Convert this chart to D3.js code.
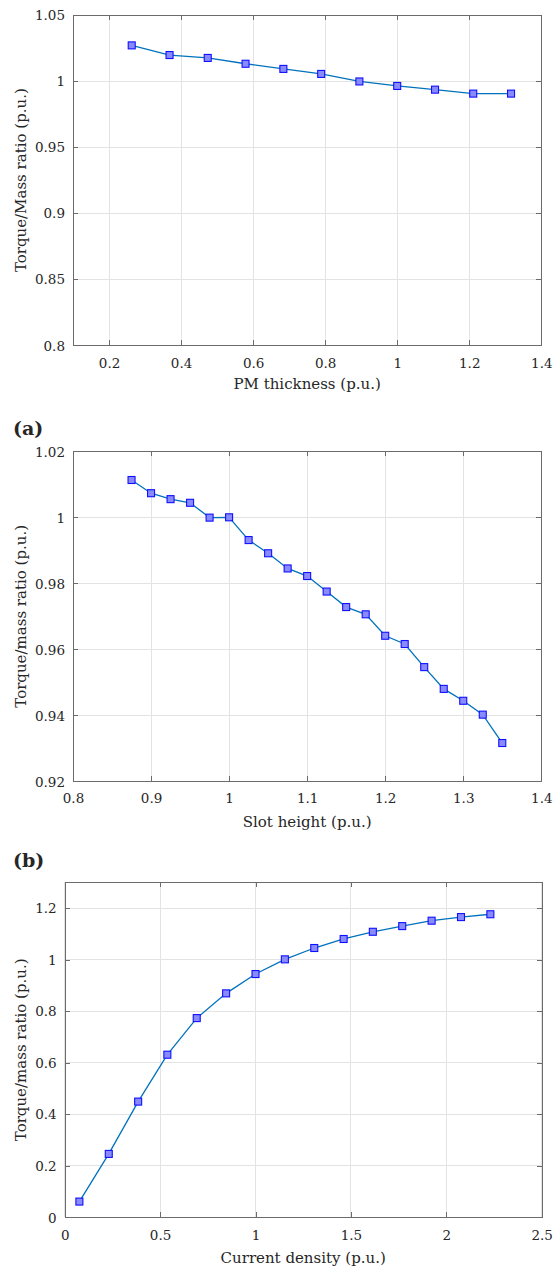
<!DOCTYPE html>
<html>
<head>
<meta charset="utf-8">
<script src="https://cdn.jsdelivr.net/npm/d3@7"></script>
<style>
  html, body { margin: 0; padding: 0; background: #fff; }
  svg text { font-family: "DejaVu Serif", "Liberation Serif", serif; fill: #262626; }
</style>
</head>
<body>
<svg id="chart" width="553" height="1270"></svg>
<script>
// ---- Data ----
const pmThickness = [0.263, 0.368, 0.474, 0.579, 0.684, 0.789, 0.895, 1.0, 1.105, 1.211, 1.316];
const pmRatio     = [1.027, 1.0197, 1.0175, 1.0131, 1.0092, 1.0054, 0.9997, 0.9963, 0.9935, 0.9905, 0.9905];

const slotHeight = [0.875, 0.9, 0.925, 0.95, 0.975, 1.0, 1.025, 1.05, 1.075, 1.1,
                    1.125, 1.15, 1.175, 1.2, 1.225, 1.25, 1.275, 1.3, 1.325, 1.35];
const slotRatio  = [1.0113, 1.0073, 1.0055, 1.0044, 0.9999, 1.0, 0.9931, 0.9891, 0.9845, 0.9822,
                    0.9775, 0.9728, 0.9706, 0.9641, 0.9616, 0.9546, 0.948, 0.9444, 0.9402, 0.9316];

const currentDensity = [0.077, 0.231, 0.385, 0.538, 0.692, 0.846, 1.0, 1.154,
                        1.308, 1.462, 1.615, 1.769, 1.923, 2.077, 2.231];
const currentRatio   = [0.061, 0.246, 0.449, 0.631, 0.773, 0.869, 0.944, 1.001,
                        1.045, 1.080, 1.108, 1.130, 1.151, 1.165, 1.176];

const ticksX1 = [0.2, 0.4, 0.6, 0.8, 1, 1.2, 1.4];
const ticksY1 = [0.8, 0.85, 0.9, 0.95, 1, 1.05];
const ticksX2 = [0.8, 0.9, 1, 1.1, 1.2, 1.3, 1.4];
const ticksY2 = [0.92, 0.94, 0.96, 0.98, 1, 1.02];
const ticksX3 = [0, 0.5, 1, 1.5, 2, 2.5];
const ticksY3 = [0, 0.2, 0.4, 0.6, 0.8, 1, 1.2];

const xLabels = ["PM thickness (p.u.)", "Slot height (p.u.)", "Current density (p.u.)"];
const yLabels = ["Torque/Mass ratio (p.u.)", "Torque/mass ratio (p.u.)", "Torque/mass ratio (p.u.)"];
const panelTags = ["(a)", "(b)"];

// ---- Drawing ----
const svg = d3.select("#chart");
const fmt = d => String(+d.toFixed(3));

function drawPanel(cfg) {
  const g = svg.append("g");
  const x = d3.scaleLinear().domain(cfg.xDomain).range([cfg.left, cfg.right]);
  const y = d3.scaleLinear().domain(cfg.yDomain).range([cfg.bottom, cfg.top]);

  // grid
  g.append("g").selectAll("line.gx").data(cfg.xTicks).join("line")
    .attr("x1", d => x(d)).attr("x2", d => x(d))
    .attr("y1", cfg.top).attr("y2", cfg.bottom)
    .attr("stroke", "#e3e3e3").attr("stroke-width", 1).attr("shape-rendering", "crispEdges");
  g.append("g").selectAll("line.gy").data(cfg.yTicks).join("line")
    .attr("y1", d => y(d)).attr("y2", d => y(d))
    .attr("x1", cfg.left).attr("x2", cfg.right)
    .attr("stroke", "#e3e3e3").attr("stroke-width", 1).attr("shape-rendering", "crispEdges");

  // axes (ticks inward)
  const ax = (axis) => axis.tickSizeInner(-5).tickSizeOuter(0).tickPadding(0).tickFormat(fmt);
  const styleAxis = (sel) => {
    sel.select(".domain").attr("stroke", "#6b6b6b");
    sel.selectAll(".tick line").attr("stroke", "#6b6b6b");
    sel.selectAll("text").attr("fill", "#2b2b2b").style("font-size", "13.5px")
       .style("font-family", '"DejaVu Serif", "Liberation Serif", serif');
  };
  const bx = g.append("g").attr("transform", `translate(0,${cfg.bottom})`)
    .call(ax(d3.axisBottom(x).tickValues(cfg.xTicks))).call(styleAxis);
  bx.selectAll("text").attr("y", cfg.xTickDy).attr("dy", "0.35em");
  const tx = g.append("g").attr("transform", `translate(0,${cfg.top})`)
    .call(ax(d3.axisTop(x).tickValues(cfg.xTicks))).call(styleAxis);
  tx.selectAll("text").remove();
  const ly = g.append("g").attr("transform", `translate(${cfg.left},0)`)
    .call(ax(d3.axisLeft(y).tickValues(cfg.yTicks))).call(styleAxis);
  ly.selectAll("text").attr("x", -cfg.yTickDx).attr("dy", "0.35em");
  const ry = g.append("g").attr("transform", `translate(${cfg.right},0)`)
    .call(ax(d3.axisRight(y).tickValues(cfg.yTicks))).call(styleAxis);
  ry.selectAll("text").remove();
  g.selectAll(".domain").attr("stroke", "#6b6b6b").attr("shape-rendering", "crispEdges");
  g.selectAll(".tick line").attr("shape-rendering", "crispEdges");

  // labels
  g.append("text").attr("x", (cfg.left + cfg.right) / 2).attr("y", cfg.xLabelY)
    .attr("text-anchor", "middle").attr("dy", "0.35em").style("font-size", "15px").text(cfg.xLabel);
  g.append("text").attr("transform", `translate(${cfg.yLabelX},${(cfg.top + cfg.bottom) / 2}) rotate(-90)`)
    .attr("text-anchor", "middle").attr("dy", "0.35em").style("font-size", "15px").text(cfg.yLabel);

  // line
  const pts = cfg.xs.map((v, i) => [v, cfg.ys[i]]);
  g.append("path").datum(pts)
    .attr("d", d3.line().x(d => x(d[0])).y(d => y(d[1])))
    .attr("fill", "none").attr("stroke", "#0072BD").attr("stroke-width", 1.3);
  const s = 7;
  g.append("g").selectAll("rect").data(pts).join("rect")
    .attr("x", d => x(d[0]) - s / 2).attr("y", d => y(d[1]) - s / 2)
    .attr("width", s).attr("height", s)
    .attr("fill", "#8a8aff").attr("stroke", "#1010ff").attr("stroke-width", 1.1);
}

drawPanel({
  xs: pmThickness, ys: pmRatio, xDomain: [0.1, 1.4], yDomain: [0.8, 1.05],
  xTicks: ticksX1, yTicks: ticksY1,
  left: 73, right: 541.3, top: 15, bottom: 345.3,
  xTickDy: 18, yTickDx: 8, xLabelY: 384, yLabelX: 21,
  xLabel: xLabels[0], yLabel: yLabels[0]
});
drawPanel({
  xs: slotHeight, ys: slotRatio, xDomain: [0.8, 1.4], yDomain: [0.92, 1.02],
  xTicks: ticksX2, yTicks: ticksY2,
  left: 73, right: 541.3, top: 451.3, bottom: 781.3,
  xTickDy: 17, yTickDx: 8, xLabelY: 822, yLabelX: 21,
  xLabel: xLabels[1], yLabel: yLabels[1]
});
drawPanel({
  xs: currentDensity, ys: currentRatio, xDomain: [0, 2.5], yDomain: [0, 1.3],
  xTicks: ticksX3, yTicks: ticksY3,
  left: 64.7, right: 541.7, top: 882.3, bottom: 1217.3,
  xTickDy: 18, yTickDx: 8, xLabelY: 1258, yLabelX: 21,
  xLabel: xLabels[2], yLabel: yLabels[2]
});

// panel tags
svg.append("text").attr("x", 13).attr("y", 435).style("font-size", "19px").style("font-weight", "bold").text(panelTags[0]);
svg.append("text").attr("x", 13).attr("y", 867).style("font-size", "19px").style("font-weight", "bold").text(panelTags[1]);
</script>
</body>
</html>
